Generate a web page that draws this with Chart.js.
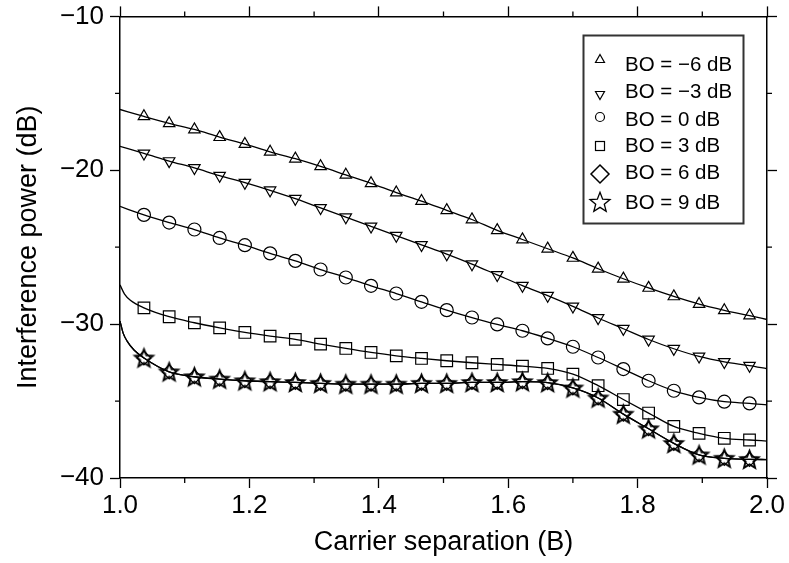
<!DOCTYPE html>
<html>
<head>
<meta charset="utf-8">
<script src="https://cdn.jsdelivr.net/npm/chart.js@4.4.1/dist/chart.umd.min.js"></script>
<style>
  html, body { margin: 0; padding: 0; background: #fff; }
  #wrap { width: 789px; height: 563px; }
</style>
</head>
<body>
<div id="wrap"><canvas id="interfChart" width="789" height="563"></canvas></div>
<script>
// carrier separation (B) where the markers sit
var markerX = [1.037, 1.076, 1.115, 1.154, 1.193, 1.232, 1.271, 1.310, 1.349, 1.388, 1.427, 1.466,
               1.505, 1.544, 1.583, 1.622, 1.661, 1.700, 1.739, 1.778, 1.817, 1.856, 1.895, 1.934, 1.973];

// interference power (dB) per back-off
var boM6 = [-16.5, -16.95, -17.35, -17.85, -18.3, -18.8, -19.25, -19.75, -20.3, -20.85, -21.45, -22.0,
            -22.6, -23.2, -23.9, -24.5, -25.1, -25.7, -26.4, -27.05, -27.65, -28.2, -28.7, -29.1, -29.45];
var boM3 = [-18.9, -19.4, -19.85, -20.35, -20.8, -21.3, -21.85, -22.45, -23.05, -23.65, -24.25, -24.85,
            -25.45, -26.1, -26.8, -27.5, -28.15, -28.85, -29.6, -30.3, -31.0, -31.6, -32.1, -32.45, -32.7];
var bo0  = [-22.9, -23.4, -23.85, -24.4, -24.87, -25.4, -25.89, -26.45, -26.97, -27.51, -28.01, -28.55,
            -29.09, -29.57, -30.02, -30.43, -30.93, -31.47, -32.17, -32.92, -33.68, -34.33, -34.76, -35.04, -35.15];
var bo3  = [-28.94, -29.52, -29.91, -30.24, -30.54, -30.78, -30.99, -31.3, -31.58, -31.84, -32.06, -32.23,
            -32.38, -32.51, -32.62, -32.73, -32.88, -33.25, -34.0, -34.9, -35.78, -36.65, -37.1, -37.42, -37.53];
var bo6  = [-32.2, -33.1, -33.42, -33.57, -33.68, -33.74, -33.79, -33.85, -33.9, -33.9, -33.9, -33.85,
            -33.85, -33.79, -33.79, -33.74, -33.8, -34.15, -34.8, -35.85, -36.8, -37.75, -38.5, -38.72, -38.79];
var bo9  = [-32.2, -33.1, -33.42, -33.57, -33.68, -33.74, -33.79, -33.85, -33.9, -33.9, -33.9, -33.85,
            -33.85, -33.79, -33.79, -33.74, -33.8, -34.15, -34.8, -35.85, -36.8, -37.75, -38.5, -38.72, -38.79];

// where each curve starts (x = 1.0 side) and ends (x = 2.0)
var curveStart = [
  [[1.0, -16.05]],
  [[1.0, -18.45]],
  [[1.0, -22.35]],
  [[1.0, -27.45], [1.007, -28.05], [1.016, -28.45]],
  [[1.0, -29.8], [1.005, -30.6], [1.011, -31.1], [1.022, -31.7]],
  [[1.0, -29.8], [1.005, -30.6], [1.011, -31.1], [1.022, -31.7]]
];
var curveEnd = [-29.7, -32.9, -35.25, -37.6, -38.8, -38.8];

var seriesNames = ['BO = \u22126 dB', 'BO = \u22123 dB', 'BO = 0 dB', 'BO = 3 dB', 'BO = 6 dB', 'BO = 9 dB'];
var seriesValues = [boM6, boM3, bo0, bo3, bo6, bo9];

var xTicks = [1.0, 1.2, 1.4, 1.6, 1.8, 2.0];
var xMinor = [1.1, 1.3, 1.5, 1.7, 1.9];
var yTicks = [-10, -20, -30, -40];
var yMinor = [-15, -25, -35];

var FONT = "'Liberation Sans', Arial, Helvetica, sans-serif";

// hollow five point star, Chart.js has no such point style
function makeStar(R, r, lw) {
  var c = document.createElement('canvas');
  var s = Math.ceil(2 * R + 2 * lw + 2);
  c.width = s; c.height = s;
  var g = c.getContext('2d');
  g.translate(s / 2, s / 2 + R * 0.08);
  g.beginPath();
  for (var i = 0; i < 10; i++) {
    var rr = i % 2 ? r : R;
    var a = -Math.PI / 2 + i * Math.PI / 5;
    g.lineTo(rr * Math.cos(a), rr * Math.sin(a));
  }
  g.closePath();
  g.lineWidth = lw;
  g.lineJoin = 'miter';
  g.strokeStyle = '#000';
  g.stroke();
  return c;
}

var starPlot = makeStar(9.5, 4.1, 1.9);
var starLegend = makeStar(10.5, 4.5, 1.3);

var pointStyles = ['triangle', 'triangle', 'circle', 'rect', 'rectRot', starPlot];
var pointRot = [0, 180, 0, 0, 0, 0];
var pointSize = [6.6, 6.6, 6.5, 8.2, 7, 9];

var datasets = seriesValues.map(function (vals, k) {
  var pts = curveStart[k].map(function (p) { return { x: p[0], y: p[1] }; });
  markerX.forEach(function (x, i) { pts.push({ x: x, y: vals[i], m: true }); });
  pts.push({ x: 2.0, y: curveEnd[k] });
  return {
    label: seriesNames[k],
    data: pts,
    showLine: true,
    borderColor: '#000',
    borderWidth: 1.3,
    cubicInterpolationMode: 'monotone',
    backgroundColor: 'rgba(0,0,0,0)',
    pointStyle: pointStyles[k],
    rotation: pointRot[k],
    pointBorderColor: '#000',
    pointBackgroundColor: 'rgba(0,0,0,0)',
    pointBorderWidth: 1.2,
    pointRadius: function (ctx) { return ctx.raw && ctx.raw.m ? pointSize[k] : 0; },
    pointHoverRadius: 0
  };
});

// minor ticks on all four sides
var minorTicks = {
  id: 'minorTicks',
  afterDraw: function (chart) {
    var ctx = chart.ctx, a = chart.chartArea;
    var xs = chart.scales.x, ys = chart.scales.y;
    ctx.save();
    ctx.strokeStyle = '#000';
    ctx.lineWidth = 1.3;
    ctx.beginPath();
    xMinor.forEach(function (v) {
      var px = xs.getPixelForValue(v);
      ctx.moveTo(px, a.bottom); ctx.lineTo(px, a.bottom + 5);
      ctx.moveTo(px, a.top); ctx.lineTo(px, a.top - 5);
    });
    yMinor.forEach(function (v) {
      var py = ys.getPixelForValue(v);
      ctx.moveTo(a.left, py); ctx.lineTo(a.left - 5, py);
      ctx.moveTo(a.right, py); ctx.lineTo(a.right + 5, py);
    });
    ctx.stroke();
    ctx.restore();
  }
};

// boxed legend in the upper right corner
var boxLegend = {
  id: 'boxLegend',
  afterDraw: function (chart) {
    var ctx = chart.ctx;
    var rows = [65, 92, 120, 146, 173, 203];
    var sym = [59, 95, 117, 146, 174, 202];
    ctx.save();
    ctx.strokeStyle = '#333';
    ctx.lineWidth = 2;
    ctx.strokeRect(583.5, 35.5, 160, 188);
    ctx.strokeStyle = '#000';
    ctx.lineWidth = 1.2;
    var sx = 600;
    // triangle up
    ctx.beginPath();
    ctx.moveTo(sx, sym[0] - 4.5); ctx.lineTo(sx + 4.5, sym[0] + 3.5); ctx.lineTo(sx - 4.5, sym[0] + 3.5); ctx.closePath(); ctx.stroke();
    // triangle down
    ctx.beginPath();
    ctx.moveTo(sx, sym[1] + 4.5); ctx.lineTo(sx + 4.5, sym[1] - 3.5); ctx.lineTo(sx - 4.5, sym[1] - 3.5); ctx.closePath(); ctx.stroke();
    // circle
    ctx.beginPath(); ctx.arc(sx, sym[2], 4.5, 0, Math.PI * 2); ctx.stroke();
    // square
    ctx.strokeRect(sx - 4.5, sym[3] - 4.5, 9, 9);
    // diamond
    ctx.lineWidth = 1.5;
    ctx.beginPath();
    ctx.moveTo(sx, sym[4] - 9); ctx.lineTo(sx + 9, sym[4]); ctx.lineTo(sx, sym[4] + 9); ctx.lineTo(sx - 9, sym[4]); ctx.closePath(); ctx.stroke();
    // star
    ctx.drawImage(starLegend, sx - starLegend.width / 2, sym[5] - starLegend.height / 2);

    ctx.fillStyle = '#000';
    ctx.font = '20.5px ' + FONT;
    ctx.textBaseline = 'middle';
    ctx.textAlign = 'left';
    seriesNames.forEach(function (t, i) { ctx.fillText(t, 625, rows[i]); });
    ctx.restore();
  }
};

function fmtY(v) { return v < 0 ? '\u2212' + Math.abs(v) : String(v); }

var axisBase = {
  type: 'linear',
  border: { display: true, color: '#000', width: 1.5 },
  grid: { drawOnChartArea: false, drawTicks: true, tickLength: 10, tickColor: '#000', tickWidth: 1.3 }
};

var ctx = document.getElementById('interfChart').getContext('2d');
var interfChart = new Chart(ctx, {
  type: 'scatter',
  data: { datasets: datasets },
  plugins: [minorTicks, boxLegend],
  options: {
    responsive: false,
    animation: false,
    devicePixelRatio: 1,
    layout: { padding: 0, autoPadding: false },
    plugins: { legend: { display: false }, tooltip: { enabled: false } },
    scales: {
      x: Object.assign({}, axisBase, {
        position: 'bottom',
        min: 1, max: 2,
        afterBuildTicks: function (s) { s.ticks = xTicks.map(function (v) { return { value: v }; }); },
        afterFit: function (s) { s.height = 85; },
        ticks: { color: '#000', font: { family: FONT, size: 26 }, padding: 2, maxRotation: 0,
                 callback: function (v) { return Number(v).toFixed(1); } },
        title: { display: true, text: 'Carrier separation (B)', color: '#000',
                 font: { family: FONT, size: 27 }, padding: { top: 0, bottom: 4 } }
      }),
      xTop: Object.assign({}, axisBase, {
        position: 'top',
        min: 1, max: 2,
        afterBuildTicks: function (s) { s.ticks = xTicks.map(function (v) { return { value: v }; }); },
        afterFit: function (s) { s.height = 16; },
        ticks: { display: false }
      }),
      y: Object.assign({}, axisBase, {
        position: 'left',
        min: -40, max: -10,
        afterBuildTicks: function (s) { s.ticks = yTicks.map(function (v) { return { value: v }; }); },
        afterFit: function (s) { s.width = 120; },
        ticks: { color: '#000', font: { family: FONT, size: 26, lineHeight: 0.8 }, padding: 6, callback: fmtY },
        title: { display: true, text: 'Interference power (dB)', color: '#000',
                 font: { family: FONT, size: 27 }, padding: { top: 12, bottom: 0 } }
      }),
      yRight: Object.assign({}, axisBase, {
        position: 'right',
        min: -40, max: -10,
        afterBuildTicks: function (s) { s.ticks = yTicks.map(function (v) { return { value: v }; }); },
        afterFit: function (s) { s.width = 22; },
        ticks: { display: false }
      })
    }
  }
});
</script>
</body>
</html>
